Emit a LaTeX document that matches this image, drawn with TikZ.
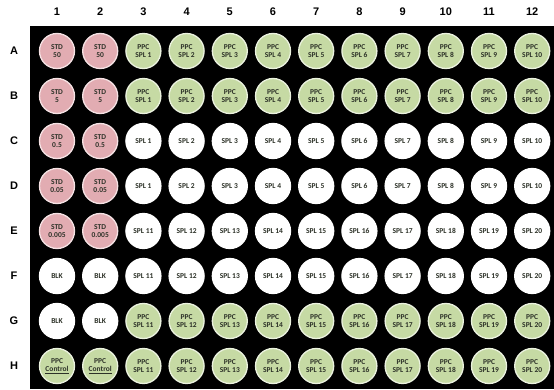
\documentclass[tikz,border=0pt]{standalone}
\usepackage{fontspec}
\setmainfont{Carlito}
\newfontfamily\headfont{Liberation Sans}
\usepackage{tikz}

\definecolor{stdpink}{RGB}{226,172,178}
\definecolor{ppcgreen}{RGB}{198,218,164}
\definecolor{welltext}{RGB}{45,50,40}

\tikzset{
  well/.style={circle,minimum size=35pt,inner sep=0pt,line width=1.3pt,
    align=center,font=\bfseries\fontsize{7.5}{8}\selectfont,text=welltext},
  stdwell/.style={well,fill=stdpink,draw=stdpink!35!white},
  ppcwell/.style={well,fill=ppcgreen,draw=ppcgreen!35!white},
  blankwell/.style={well,fill=white,draw=white},
  headlbl/.style={font=\headfont\bfseries\fontsize{11}{12}\selectfont}
}

\begin{document}
\begin{tikzpicture}[x=1pt,y=-1pt]
\useasboundingbox (0,0) rectangle (554,390);
% plate
\fill[black] (30,26) rectangle (554,389);
% column and row headings
\foreach \c in {1,...,12}
  \node[headlbl] (col\c) at ({57+(\c-1)*43.2},12) {\c};
\foreach \row [count=\i] in {A,B,C,D,E,F,G,H}
  \node[headlbl] (row\row) at (14,{51+(\i-1)*45}) {\row};
% standards, blanks and controls
\foreach \row/\val [count=\i] in {A/50,B/5,C/0.5,D/0.05,E/0.005}
  \foreach \c in {1,2}
    \node[stdwell] (\row\c) at ({57+(\c-1)*43.2},{51+(\i-1)*45}) {STD\\\val};
\foreach \row/\i in {F/6,G/7}
  \foreach \c in {1,2}
    \node[blankwell] (\row\c) at ({57+(\c-1)*43.2},{51+(\i-1)*45}) {BLK};
\foreach \c in {1,2}
  \node[ppcwell] (H\c) at ({57+(\c-1)*43.2},366) {PPC\\\underline{Control}};
% samples
\foreach \c [evaluate=\c as \n using int(\c-2),
             evaluate=\c as \m using int(\c+8)] in {3,...,12} {
  \node[ppcwell] (A\c) at ({57+(\c-1)*43.2},51) {PPC\\SPL \n};
  \node[ppcwell] (B\c) at ({57+(\c-1)*43.2},96) {PPC\\SPL \n};
  \node[blankwell] (C\c) at ({57+(\c-1)*43.2},141) {SPL \n};
  \node[blankwell] (D\c) at ({57+(\c-1)*43.2},186) {SPL \n};
  \node[blankwell] (E\c) at ({57+(\c-1)*43.2},231) {SPL \m};
  \node[blankwell] (F\c) at ({57+(\c-1)*43.2},276) {SPL \m};
  \node[ppcwell] (G\c) at ({57+(\c-1)*43.2},321) {PPC\\SPL \m};
  \node[ppcwell] (H\c) at ({57+(\c-1)*43.2},366) {PPC\\SPL \m};
}
\end{tikzpicture}
\end{document}
